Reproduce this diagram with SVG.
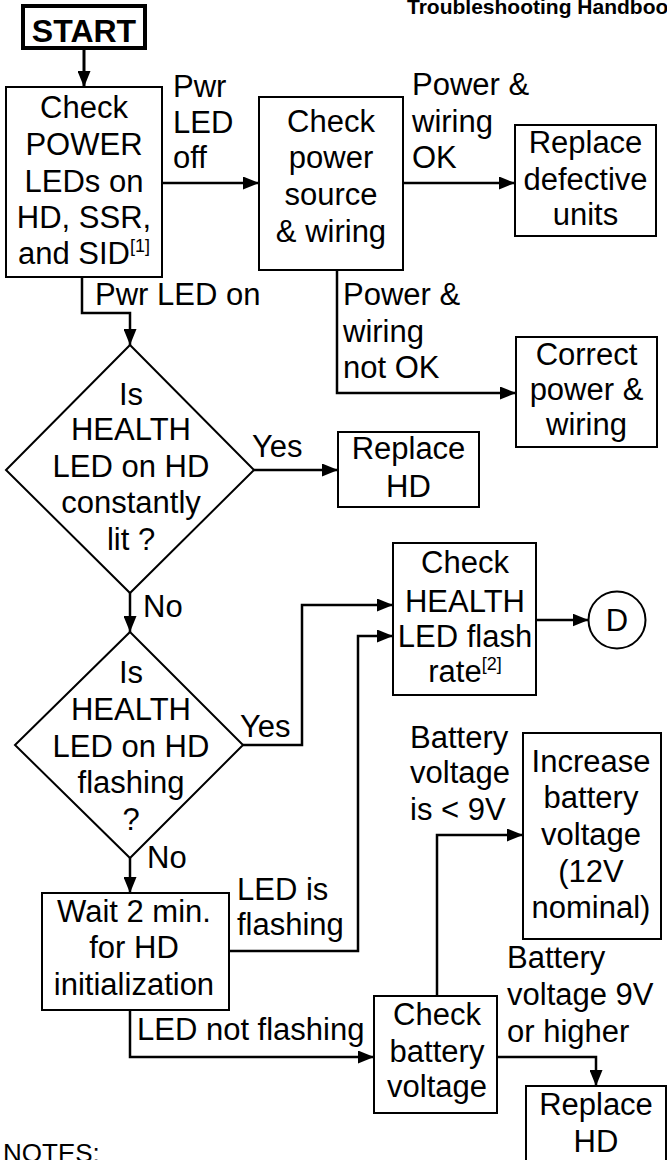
<svg xmlns="http://www.w3.org/2000/svg" width="667" height="1160" viewBox="0 0 667 1160">
<style>
  text { font-family: "Liberation Sans", Arial, sans-serif; font-size: 31px; fill: #000; }
  .c { text-anchor: middle; }
  .sup { font-size: 18px; }
  .box { fill: #fff; stroke: #000; stroke-width: 2; }
  .conn path { fill: none; stroke: #000; stroke-width: 2.5; }
  .arr { marker-end: url(#ah); }
</style>
<defs>
  <marker id="ah" markerUnits="userSpaceOnUse" markerWidth="16" markerHeight="13" refX="16" refY="6.5" orient="auto">
    <path d="M0,0 L16,6.5 L0,13 z" fill="#000"/>
  </marker>
</defs>
<rect width="667" height="1160" fill="#fff"/>

<text x="407" y="14" style="font-size:21px;font-weight:bold">Troubleshooting Handbook</text>

<g class="conn">
  <path class="arr" d="M84,50 V87" style="stroke-width:3"/>
  <path class="arr" d="M162,183 H259"/>
  <path class="arr" d="M403,183 H515"/>
  <path class="arr" d="M82,277 V313 H130 V345"/>
  <path class="arr" d="M337,270 V393 H516"/>
  <path class="arr" d="M254,470 H338"/>
  <path class="arr" d="M130,593 V632"/>
  <path class="arr" d="M243,745 H302 V605 H393"/>
  <path class="arr" d="M536,620 H588.5"/>
  <path class="arr" d="M130,858 V893"/>
  <path class="arr" d="M229,951 H358 V636 H393"/>
  <path class="arr" d="M130,1010 V1057 H374"/>
  <path class="arr" d="M437,996 V835 H523"/>
  <path class="arr" d="M497,1057 H596 V1086"/>
</g>

<g id="start">
  <rect x="23" y="6" width="122" height="42" fill="#fff" stroke="#000" stroke-width="4"/>
  <text x="84" y="42" class="c" style="font-size:32px;font-weight:bold">START</text>
</g>

<g id="check-power-leds">
  <rect class="box" x="6" y="87" width="156" height="190"/>
  <text class="c" x="84" y="118">Check</text>
  <text class="c" x="84" y="155">POWER</text>
  <text class="c" x="84" y="192">LEDs on</text>
  <text class="c" x="84" y="228">HD, SSR,</text>
  <text class="c" x="84" y="264">and SID<tspan class="sup" dy="-12">[1]</tspan></text>
</g>

<g id="lbl-pwr-off">
  <text x="173" y="97">Pwr</text>
  <text x="173" y="133">LED</text>
  <text x="173" y="168">off</text>
</g>

<g id="check-power-source">
  <rect class="box" x="259" y="97" width="144" height="173"/>
  <text class="c" x="331" y="132">Check</text>
  <text class="c" x="331" y="168">power</text>
  <text class="c" x="331" y="205">source</text>
  <text class="c" x="331" y="242">&amp; wiring</text>
</g>

<g id="lbl-ok">
  <text x="412" y="95">Power &amp;</text>
  <text x="412" y="132">wiring</text>
  <text x="412" y="168">OK</text>
</g>

<g id="replace-defective">
  <rect class="box" x="515" y="125" width="141" height="111"/>
  <text class="c" x="585.5" y="153">Replace</text>
  <text class="c" x="585.5" y="190">defective</text>
  <text class="c" x="585.5" y="225">units</text>
</g>

<g id="lbl-pwr-on">
  <text x="95" y="305">Pwr LED on</text>
</g>

<g id="lbl-not-ok">
  <text x="343" y="305">Power &amp;</text>
  <text x="343" y="342">wiring</text>
  <text x="343" y="378">not OK</text>
</g>

<g id="correct-power">
  <rect class="box" x="516" y="337" width="141" height="110"/>
  <text class="c" x="586.5" y="365">Correct</text>
  <text class="c" x="586.5" y="400">power &amp;</text>
  <text class="c" x="586.5" y="435">wiring</text>
</g>

<g id="decision-lit">
  <polygon class="box" points="130,345 254,470 130,593 6,470"/>
  <text class="c" x="131" y="405">Is</text>
  <text class="c" x="131" y="440">HEALTH</text>
  <text class="c" x="131" y="477">LED on HD</text>
  <text class="c" x="131" y="513">constantly</text>
  <text class="c" x="131" y="550">lit ?</text>
</g>

<g id="lbl-yes1">
  <text x="252" y="457">Yes</text>
</g>

<g id="replace-hd-1">
  <rect class="box" x="338" y="432" width="141" height="75"/>
  <text class="c" x="408.5" y="459">Replace</text>
  <text class="c" x="408.5" y="497">HD</text>
</g>

<g id="lbl-no1">
  <text x="143" y="617">No</text>
</g>

<g id="decision-flashing">
  <polygon class="box" points="130,632 243,745 130,858 15,745"/>
  <text class="c" x="131" y="683">Is</text>
  <text class="c" x="131" y="720">HEALTH</text>
  <text class="c" x="131" y="757">LED on HD</text>
  <text class="c" x="131" y="793">flashing</text>
  <text class="c" x="131" y="830">?</text>
</g>

<g id="lbl-yes2">
  <text x="240" y="737">Yes</text>
</g>

<g id="check-flash-rate">
  <rect class="box" x="393" y="543" width="143" height="152"/>
  <text class="c" x="465" y="573">Check</text>
  <text class="c" x="465" y="612">HEALTH</text>
  <text class="c" x="465" y="647">LED flash</text>
  <text class="c" x="465" y="682">rate<tspan class="sup" dy="-12">[2]</tspan></text>
</g>

<g id="connector-d">
  <circle class="box" cx="617" cy="620" r="28.5"/>
  <text class="c" x="617" y="631">D</text>
</g>

<g id="lbl-no2">
  <text x="147" y="868">No</text>
</g>

<g id="wait">
  <rect class="box" x="42" y="893" width="187" height="117"/>
  <text class="c" x="134" y="922">Wait 2 min.</text>
  <text class="c" x="134" y="958">for HD</text>
  <text class="c" x="134" y="995">initialization</text>
</g>

<g id="lbl-led-flashing">
  <text x="237" y="900">LED is</text>
  <text x="237" y="935">flashing</text>
</g>

<g id="lbl-led-not-flashing">
  <text x="137" y="1040">LED not flashing</text>
</g>

<g id="check-battery">
  <rect class="box" x="374" y="996" width="123" height="117"/>
  <text class="c" x="437" y="1025">Check</text>
  <text class="c" x="437" y="1062">battery</text>
  <text class="c" x="437" y="1097">voltage</text>
</g>

<g id="lbl-low">
  <text x="410" y="748">Battery</text>
  <text x="410" y="783">voltage</text>
  <text x="410" y="820">is &lt; 9V</text>
</g>

<g id="increase-battery">
  <rect class="box" x="523" y="733" width="138" height="206"/>
  <text class="c" x="591" y="772">Increase</text>
  <text class="c" x="591" y="808">battery</text>
  <text class="c" x="591" y="845">voltage</text>
  <text class="c" x="591" y="882">(12V</text>
  <text class="c" x="591" y="918">nominal)</text>
</g>

<g id="lbl-high">
  <text x="507" y="968">Battery</text>
  <text x="507" y="1005">voltage 9V</text>
  <text x="507" y="1042">or higher</text>
</g>

<g id="replace-hd-2">
  <rect class="box" x="526" y="1086" width="140" height="90"/>
  <text class="c" x="596" y="1115">Replace</text>
  <text class="c" x="596" y="1152">HD</text>
</g>

<text x="3" y="1162" style="font-size:26px">NOTES:</text>
</svg>
